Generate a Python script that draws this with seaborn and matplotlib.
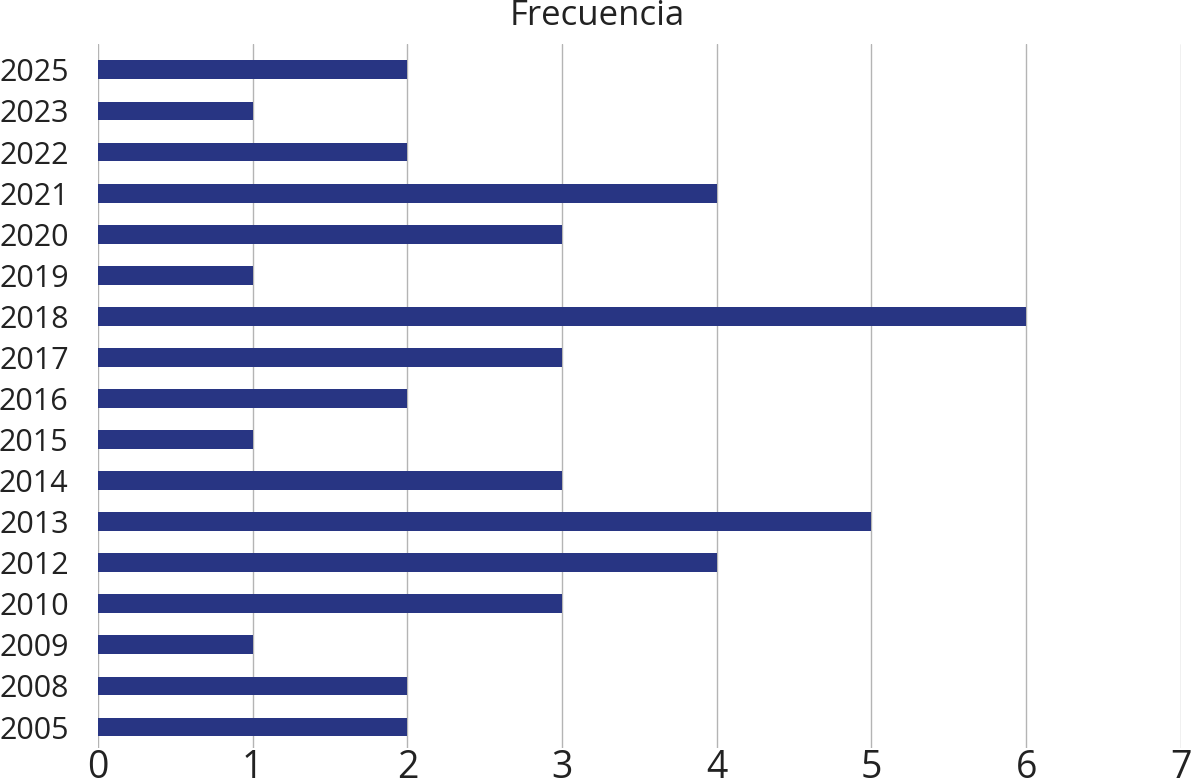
import pandas as pd
import matplotlib.pyplot as plt
import seaborn as sns

# Data (top to bottom)
years = ["2025", "2023", "2022", "2021", "2020", "2019", "2018", "2017", "2016",
         "2015", "2014", "2013", "2012", "2010", "2009", "2008", "2005"]
counts = [2, 1, 2, 4, 3, 1, 6, 3, 2, 1, 3, 5, 4, 3, 1, 2, 2]
x_ticks = [0, 1, 2, 3, 4, 5, 6, 7]

df = pd.DataFrame({"year": years, "count": counts})

sns.set_theme(style="white")
plt.rcParams['font.family'] = ['Open Sans', 'DejaVu Sans']

fig = plt.figure(figsize=(11.94, 7.79), dpi=100)
ax = fig.add_axes([0.082, 0.0398, 0.907, 0.9037])

sns.barplot(data=df, x="count", y="year", orient="h", color="#283583",
            saturation=1, width=0.46, linewidth=0, ax=ax)

ax.set_xlim(0, 7)
ax.set_ylim(len(years) - 1 + 0.51, -0.63)
ax.set_xticks(x_ticks)
ax.xaxis.grid(True, color="#b4b4b4", linewidth=1)
ax.set_axisbelow(True)
for s in ax.spines.values():
    s.set_visible(False)

ax.tick_params(axis="y", length=0, pad=21, labelsize=22, labelcolor="#222222")
ax.tick_params(axis="x", length=0, pad=1, labelsize=27, labelcolor="#222222")
ax.set_xlabel("")
ax.set_ylabel("")

# title is centred on the whole figure, not the axes
fig.text(0.5, 0.968, "Frecuencia", fontsize=25, color="#222222",
         ha="center", va="baseline")

fig.savefig("out.png", dpi=100)
